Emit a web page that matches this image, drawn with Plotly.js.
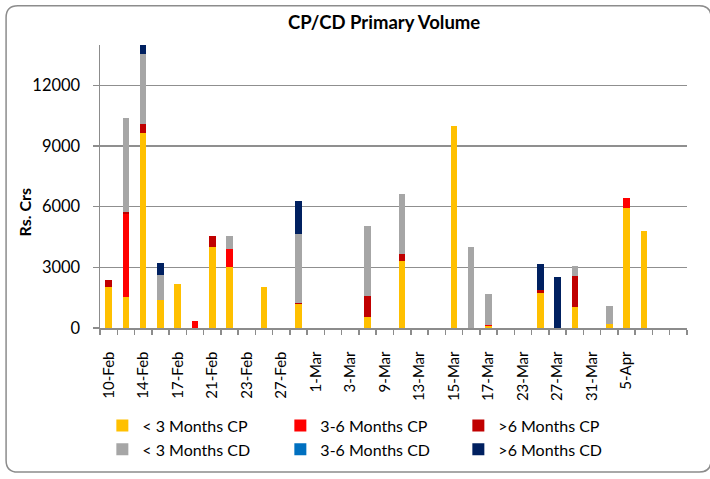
<!DOCTYPE html>
<html>
<head>
<meta charset="utf-8">
<script src="https://cdn.plot.ly/plotly-3.0.1.min.js"></script>
<style>
  html, body { margin: 0; padding: 0; background: #ffffff; }
  #chart { width: 710px; height: 479px; }
</style>
</head>
<body>
<div id="chart"></div>
<script>
// Categories (dates); only every other one is labelled on the axis
const categories = [
  "10-Feb","11-Feb","14-Feb","16-Feb","17-Feb","20-Feb","21-Feb","22-Feb","23-Feb","24-Feb",
  "27-Feb","28-Feb","1-Mar","2-Mar","3-Mar","7-Mar","9-Mar","10-Mar","13-Mar","14-Mar",
  "15-Mar","16-Mar","17-Mar","22-Mar","23-Mar","24-Mar","27-Mar","30-Mar","31-Mar","2-Apr",
  "5-Apr","6-Apr","",""
];

// Series values (Rs. Crs)
const cpLt3 = [2010,1530,9660,1400,2180,0,4000,3020,0,2050, 0,1190,0,0,0,540,0,3300,0,0, 9970,0,80,0,0,1720,0,1020,0,200, 5920,4780,0,0];
const cp3to6 = [0,4130,0,0,0,330,0,900,0,0, 0,0,0,0,0,0,0,0,0,0, 0,0,60,0,0,0,0,0,0,0, 490,0,0,0];
const cpGt6 = [370,60,430,0,0,0,570,0,0,0, 0,60,0,0,0,1060,0,340,0,0, 0,0,0,0,0,160,0,1560,0,0, 0,0,0,0];
const cdLt3 = [0,4660,3480,1200,0,0,0,650,0,0, 0,3400,0,0,0,3460,0,3000,0,0, 0,4000,1530,0,0,0,0,500,0,900, 0,0,0,0];
const cd3to6 = [0,0,0,0,0,0,0,0,0,0, 0,0,0,0,0,0,0,0,0,0, 0,0,0,0,0,0,0,0,0,0, 0,0,0,0];
const cdGt6 = [0,0,600,620,0,0,0,0,0,0, 0,1630,0,0,0,0,0,0,0,0, 0,0,0,0,0,1270,2540,0,0,0, 0,0,0,0];

const seriesNames = ["< 3 Months CP","3-6 Months CP",">6 Months CP","< 3 Months CD","3-6 Months CD",">6 Months CD"];
const seriesValues = [cpLt3, cp3to6, cpGt6, cdLt3, cd3to6, cdGt6];
const seriesColors = ["#FFC000","#FF0000","#C00000","#A6A6A6","#0070C0","#002060"];

const yTicks = [0, 3000, 6000, 9000, 12000];

const FONT = "Lato, 'Liberation Sans', sans-serif";
const xIdx = categories.map((c, i) => i);
const tickIdx = xIdx.filter(i => i % 2 === 0 && categories[i] !== "");

const traces = seriesNames.map((name, k) => ({
  type: "bar",
  name: name,
  x: xIdx,
  y: seriesValues[k],
  marker: { color: seriesColors[k], line: { width: 0 } },
  hoverinfo: "x+y+name"
}));

const layout = {
  width: 710,
  height: 479,
  paper_bgcolor: "#ffffff",
  plot_bgcolor: "#ffffff",
  margin: { l: 100, r: 23, t: 45, b: 147 },
  barmode: "stack",
  bargap: 0.62,
  font: { family: FONT, size: 15, color: "#000000" },
  title: {
    text: "<b>CP/CD Primary Volume</b>",
    font: { family: FONT, size: 18.5, color: "#000000" },
    xref: "paper", x: 0.484, xanchor: "center",
    yref: "container", y: 0.952, yanchor: "middle"
  },
  xaxis: {
    range: [-0.5, 33.5],
    tickmode: "array",
    tickvals: tickIdx,
    ticktext: tickIdx.map(i => categories[i]),
    tickangle: -90,
    ticks: "outside",
    ticklen: 16,
    tickcolor: "rgba(0,0,0,0)",
    tickfont: { family: FONT, size: 15, color: "#000000" },
    showgrid: false,
    zeroline: false,
    showline: true,
    linecolor: "#8c8c8c",
    linewidth: 1.5,
    minor: { tickmode: "linear", tick0: -0.5, dtick: 1, ticks: "outside", ticklen: 5, tickcolor: "#8c8c8c", tickwidth: 1.5, showgrid: false },
    fixedrange: true
  },
  yaxis: {
    range: [0, 14000],
    tickmode: "array",
    tickvals: yTicks,
    ticktext: yTicks.map(v => String(v)),
    ticks: "outside",
    ticklen: 6,
    tickwidth: 1.5,
    tickcolor: "#8c8c8c",
    ticklabelstandoff: 9,
    tickfont: { family: FONT, size: 16.5, color: "#000000" },
    showgrid: true,
    gridcolor: "#8f8f8f",
    gridwidth: 1.5,
    zeroline: false,
    showline: true,
    linecolor: "#8c8c8c",
    linewidth: 1.5,
    fixedrange: true
  },
  showlegend: true,
  legend: {
    orientation: "h",
    x: 0.004, xanchor: "left",
    y: -0.285, yanchor: "top",
    entrywidth: 133,
    traceorder: "normal",
    font: { family: FONT, size: 16, color: "#000000" },
    bgcolor: "rgba(0,0,0,0)",
    tracegroupgap: 0
  },
  annotations: [{
    text: "<b>Rs. Crs</b>",
    xref: "paper", yref: "paper",
    x: -0.128, y: 0.408,
    xanchor: "center", yanchor: "middle",
    textangle: -90,
    showarrow: false,
    font: { family: FONT, size: 16, color: "#000000" }
  }],
  shapes: [{
    type: "path",
    xref: "paper", yref: "paper",
    path: "M -0.140,1.139 L 1.021,1.139 Q 1.041,1.139 1.041,1.097 L 1.041,-0.467 Q 1.041,-0.509 1.021,-0.509 L -0.140,-0.509 Q -0.160,-0.509 -0.160,-0.467 L -0.160,1.097 Q -0.160,1.139 -0.140,1.139 Z",
    line: { color: "#8c8c8c", width: 1.5 },
    fillcolor: "rgba(0,0,0,0)",
    layer: "below"
  }]
};

Plotly.newPlot("chart", traces, layout, { displayModeBar: false, staticPlot: true });
</script>
</body>
</html>
